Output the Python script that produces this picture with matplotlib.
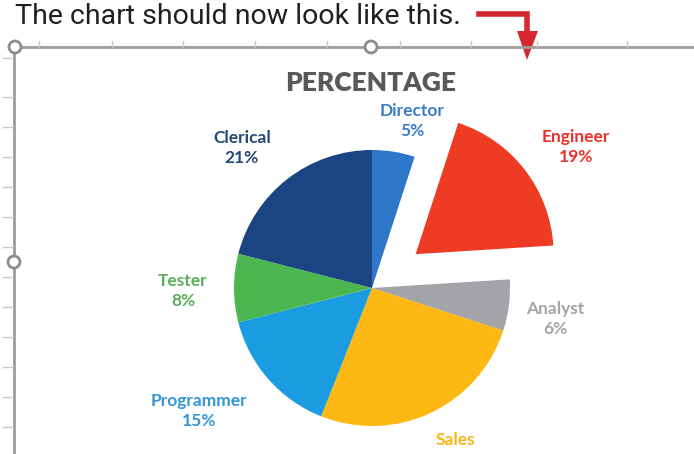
import matplotlib.pyplot as plt
from matplotlib.patches import Circle, Polygon

# share of staff by role
roles = ['Director', 'Engineer', 'Analyst', 'Sales', 'Programmer', 'Tester', 'Clerical']
shares = [5, 19, 6, 26, 15, 8, 21]
explode = [0, 0.4, 0, 0, 0, 0, 0]
slice_colors = ['#2f77c9', '#ee3b24', '#a2a4a8', '#fdb813', '#1b9ce0', '#4cb750', '#1a4582']
label_colors = ['#3b7cc8', '#e8332a', '#a3a5a8', '#f9b51c', '#3596d6', '#5aae5b', '#24477a']

# label anchor points (pixels from top-left)
label_xy = [(412, 121), (576, 147), (555, 319), (455, 440), (199, 411), (183, 291), (242, 148)]

W, H = 694, 454
fig = plt.figure(figsize=(W / 100, H / 100), dpi=100)
ax = fig.add_axes([0, 0, 1, 1])

cx, cy, r = 372, 288, 138
# pie offsets are in data units, so scale the explode fractions by the radius
ax.pie(shares, explode=[e * r for e in explode], colors=slice_colors, startangle=90,
       counterclock=False, center=(cx, H - cy), radius=r, frame=True,
       wedgeprops=dict(linewidth=0))

ax.set_xlim(0, W)
ax.set_ylim(0, H)
ax.set_aspect('equal')
ax.axis('off')

for name, pct, (x, y), c in zip(roles, shares, label_xy, label_colors):
    txt = f'{name}\n{pct}%' if name != 'Sales' else name
    ax.text(x, H - y, txt, ha='center', va='center', color=c, fontsize=12.5,
            fontweight='bold', family='Lato', linespacing=1.3)

ax.text(371, H - 83, 'PERCENTAGE', ha='center', va='center', fontsize=19,
        fontweight='heavy', family='Lato', color='#595959')

# selection frame of the chart object
gray = '#9c9c9c'
ax.plot([15, W], [H - 47, H - 47], color=gray, lw=2, solid_capstyle='butt')
ax.plot([14, 14], [H - 47, 0], color=gray, lw=2, solid_capstyle='butt')
for tx in [39, 112, 183, 255, 327, 400, 471, 537, 627]:
    ax.plot([tx, tx], [H - 41, H - 47], color='#c8c8c8', lw=1)
for ty in [58, 97, 127, 157, 187, 217, 247, 277, 307, 337, 367, 397, 427]:
    ax.plot([3, 13], [H - ty, H - ty], color='#c8c8c8', lw=1)
for hx, hy in [(15, 47), (371, 47), (14, 262)]:
    ax.add_patch(Circle((hx, H - hy), 6, facecolor='white', edgecolor='#8c8c8c', lw=2, zorder=5))

# caption and pointer arrow
ax.text(15, H - 16, 'The chart should now look like this.', ha='left', va='center',
        fontsize=20.5, family='Roboto', color='#231f20')
red = '#d6262e'
ax.plot([479, 527, 527], [H - 14, H - 14, H - 32], color=red, lw=4, solid_joinstyle='miter')
ax.add_patch(Polygon([(517, H - 31), (538, H - 31), (527, H - 60)], closed=True,
                     facecolor=red, edgecolor='none'))

fig.savefig('out.png', dpi=100)
